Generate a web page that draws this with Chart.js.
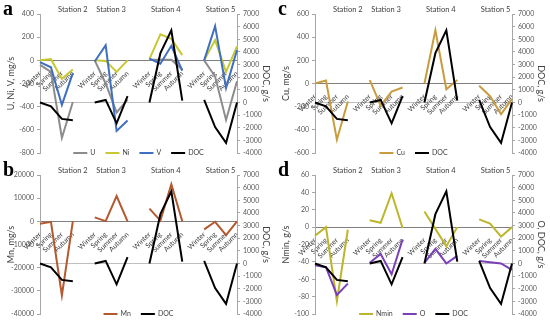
<!DOCTYPE html>
<html>
<head>
<meta charset="utf-8">
<script src="https://cdn.jsdelivr.net/npm/chart.js@4.4.1/dist/chart.umd.min.js"></script>
<style>
  html, body { margin: 0; padding: 0; background: #fff; }
  #wrap { position: relative; width: 550px; height: 322px; overflow: hidden; }
  canvas { position: absolute; }
</style>
</head>
<body>
<div id="wrap">
  <canvas id="chart_a" width="275" height="161" style="left:0;top:0"></canvas>
  <canvas id="chart_c" width="275" height="161" style="left:275px;top:0"></canvas>
  <canvas id="chart_b" width="275" height="161" style="left:0;top:161px"></canvas>
  <canvas id="chart_d" width="275" height="161" style="left:275px;top:161px"></canvas>
</div>
<script>
const seasons = ["Winter", "Spring", "Summer", "Autumn"];
const stations = ["Station 2", "Station 3", "Station 4", "Station 5"];

// 16 values each: Station 2..5, Winter..Autumn
const doc = [0, -300, -1300, -1400, 0, 200, -1650, 500, 0, 3900, 5700, 150, 200, -1950, -3200, 0];
const u = [-40, -100, -670, -360, 0, -200, -450, -340, 5, 5, 5, -80, 0, -140, -515, -180];
const ni = [0, 10, -160, -80, 0, -5, -100, 0, 10, 225, 185, 45, 0, 175, -100, 120];
const v = [-15, -60, -385, -110, -10, 130, -610, -520, 15, -30, 125, -90, 0, 295, -240, 90];
const mn = [-1000, -200, -32000, 0, 1700, 100, 10900, 0, 5500, 300, 16000, 0, -3500, -200, -6000, 0];
const cu = [0, 25, -485, -155, 30, -190, -70, -35, 0, 460, -50, 30, -20, -110, -265, -135];
const nmin = [-10, 0, -85, -3, 8, 5, 39, -1, 18, -2, -22, 0, 9, 4, -11, 0];
// O is read on the right (g/s) axis
const o = [-150, -300, -2500, -1600, 50, 750, -850, 1900, 50, 1150, 0, 600, 200, 100, 0, -500];

const docTicks = [-4000, 7000, 1000];

const FONT = "Lato";

// category labels with an empty slot between stations
const labels = [];
stations.forEach((s, i) => {
  if (i > 0) labels.push("");
  seasons.forEach((x) => labels.push(x));
});

function withGaps(values) {
  const out = [];
  values.forEach((val, i) => {
    if (i > 0 && i % 4 === 0) out.push(null);
    out.push(val);
  });
  return out;
}

const decor = {
  id: "decor",
  afterDraw(chart, args, opts) {
    const { ctx, chartArea, scales } = chart;
    const x = scales.x;
    ctx.save();

    // panel letter
    ctx.font = "bold 20px 'Liberation Serif'";
    ctx.fillStyle = "#000";
    ctx.textAlign = "left";
    ctx.textBaseline = "alphabetic";
    ctx.fillText(opts.letter, 3, 15);

    // station names
    ctx.font = "7.5px " + FONT;
    ctx.fillStyle = "#404040";
    ctx.textAlign = "center";
    ctx.textBaseline = "middle";
    stations.forEach((s, i) => {
      const first = i * 5;
      const mid = i === 0 ? first + 3 : first + 1.5;
      ctx.fillText(s, x.getPixelForValue(mid), chartArea.top - 4);
    });

    // legend
    ctx.font = "7px " + FONT;
    ctx.textAlign = "left";
    const items = chart.data.datasets.map((d) => ({
      label: d.label,
      color: d.borderColor,
      w: 14 + 3 + ctx.measureText(d.label).width,
    }));
    const total = items.reduce((a, it) => a + it.w, 0) + 10 * (items.length - 1);
    let lx = (chartArea.left + chartArea.right) / 2 - total / 2;
    const ly = chartArea.bottom;
    items.forEach((it) => {
      ctx.strokeStyle = it.color;
      ctx.lineWidth = 2;
      ctx.beginPath();
      ctx.moveTo(lx, ly);
      ctx.lineTo(lx + 14, ly);
      ctx.stroke();
      ctx.fillStyle = "#404040";
      ctx.fillText(it.label, lx + 17, ly);
      lx += it.w + 10;
    });
    ctx.restore();
  },
};

const plain = (value) => String(value);

function makePanel(id, letter, leftTitle, rightTitle, left, series) {
  const datasets = series.map((s, i) => ({
    label: s.label,
    data: withGaps(s.data),
    borderColor: s.color,
    backgroundColor: s.color,
    borderWidth: 2,
    pointRadius: 0,
    tension: 0,
    yAxisID: s.axis,
    order: series.length - i,
  }));

  return new Chart(document.getElementById(id).getContext("2d"), {
    type: "line",
    data: { labels: labels, datasets: datasets },
    plugins: [decor],
    options: {
      responsive: false,
      animation: false,
      events: [],
      layout: { padding: { top: 14, bottom: 8, left: 0, right: 0 } },
      plugins: {
        legend: { display: false },
        tooltip: { enabled: false },
        decor: { letter: letter },
      },
      scales: {
        x: {
          position: { y: 0 },
          offset: false,
          grid: { display: false },
          border: { display: true, color: "#7f7f7f", width: 1 },
          ticks: {
            autoSkip: false,
            minRotation: 45,
            maxRotation: 45,
            padding: 1,
            color: "#404040",
            font: { family: FONT, size: 7 },
          },
        },
        y: {
          position: "left",
          min: left[0],
          max: left[1],
          afterFit: (s) => { s.width = 40; },
          grid: { drawOnChartArea: false, tickLength: 3, color: "#a6a6a6" },
          border: { color: "#a6a6a6" },
          ticks: {
            stepSize: left[2],
            padding: 3,
            color: "#595959",
            font: { family: FONT, size: 7 },
            callback: plain,
          },
          title: {
            display: true,
            text: leftTitle,
            color: "#404040",
            padding: { top: 6, bottom: 0 },
            font: { family: FONT, size: 9 },
          },
        },
        y1: {
          position: "right",
          min: docTicks[0],
          max: docTicks[1],
          afterFit: (s) => { s.width = 38; },
          grid: {
            drawOnChartArea: true,
            tickLength: 3,
            color: (c) => (c.tick && c.tick.value === 0 ? "#bfbfbf" : "rgba(0,0,0,0)"),
            tickColor: "#a6a6a6",
          },
          border: { color: "#a6a6a6" },
          ticks: {
            stepSize: docTicks[2],
            padding: 3,
            color: "#595959",
            font: { family: FONT, size: 7 },
            callback: plain,
          },
          title: {
            display: true,
            text: rightTitle,
            color: "#404040",
            padding: { top: 4, bottom: 0 },
            font: { family: FONT, size: 9 },
          },
        },
      },
    },
  });
}

makePanel("chart_a", "a", "U, Ni, V, mg/s", "DOC, g/s", [-800, 400, 200], [
  { label: "U", data: u, color: "#8c8c8c", axis: "y" },
  { label: "Ni", data: ni, color: "#c8c832", axis: "y" },
  { label: "V", data: v, color: "#3f6fc0", axis: "y" },
  { label: "DOC", data: doc, color: "#000000", axis: "y1" },
]);

makePanel("chart_b", "b", "Mn, mg/s", "DOC, g/s", [-40000, 20000, 10000], [
  { label: "Mn", data: mn, color: "#b4582e", axis: "y" },
  { label: "DOC", data: doc, color: "#000000", axis: "y1" },
]);

makePanel("chart_c", "c", "Cu, mg/s", "DOC, g/s", [-600, 600, 200], [
  { label: "Cu", data: cu, color: "#c99c40", axis: "y" },
  { label: "DOC", data: doc, color: "#000000", axis: "y1" },
]);

makePanel("chart_d", "d", "Nmin, g/s", "O, DOC, g/s", [-100, 60, 20], [
  { label: "Nmin", data: nmin, color: "#bdb52a", axis: "y" },
  { label: "O", data: o, color: "#7a3fb8", axis: "y1" },
  { label: "DOC", data: doc, color: "#000000", axis: "y1" },
]);
</script>
</body>
</html>
